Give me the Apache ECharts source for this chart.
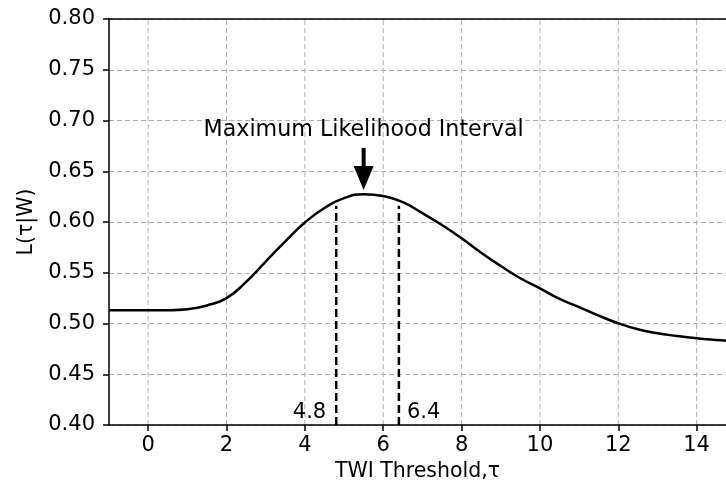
<!DOCTYPE html>
<html><head><meta charset="utf-8">
<script src="https://cdn.jsdelivr.net/npm/echarts@6/dist/echarts.min.js"></script>
<style>html,body{margin:0;padding:0;background:#fff}#c{width:726px;height:491px}</style>
</head><body><div id="c"></div>
<script>
const tau = [-1, -0.5, 0, 0.5, 1, 1.5, 2, 2.5, 3, 3.5, 4, 4.5, 5, 5.5, 6, 6.5, 7, 7.5, 8, 8.5, 9, 9.5, 10, 10.5, 11, 11.5, 12, 12.5, 13, 13.5, 14, 14.5, 15];
const likelihood = [0.513, 0.513, 0.513, 0.5131, 0.514, 0.5178, 0.525, 0.541, 0.561, 0.581, 0.5995, 0.6138, 0.6235, 0.6273, 0.6256, 0.6195, 0.6087, 0.597, 0.584, 0.5697, 0.5567, 0.5446, 0.5347, 0.5242, 0.5162, 0.5078, 0.5002, 0.4943, 0.4903, 0.4877, 0.4854, 0.4838, 0.4825];
const xTicks = [0, 2, 4, 6, 8, 10, 12, 14];
const intervalBounds = [4.8, 6.4];
const intervalLabels = ['4.8', '6.4'];
const intervalTop = 0.616;
const peakTau = 5.5;
const arrowFrom = 0.673;
const arrowTo = 0.6315;
const annotationText = 'Maximum Likelihood Interval';
const annotationY = 0.6906;
const boundLabelY = 0.4118;

const X_MIN = -1, X_MAX = 14.75, Y_MIN = 0.4, Y_MAX = 0.8;
const FONT = 'DejaVu Sans';

const chart = echarts.init(document.getElementById('c'), null, {renderer: 'canvas'});

const curveData = tau.map((t, i) => [t, likelihood[i]]);

const series = [
  {
    type: 'custom', z: 0, silent: true, clip: false,
    data: xTicks.map(v => [v, Y_MIN]),
    renderItem: (params, api) => {
      const v = api.value(0);
      const a = api.coord([v, Y_MIN]);
      const b = api.coord([v, Y_MAX]);
      return {type: 'line', shape: {x1: a[0], y1: a[1], x2: b[0], y2: b[1]},
        style: {stroke: '#b0b0b0', lineWidth: 1, lineDash: [5, 3]}};
    }
  },
  {
    type: 'line', z: 3, data: curveData, smooth: 0.5, symbol: 'none',
    lineStyle: {color: '#000', width: 2.5}, silent: true
  }
];

intervalBounds.forEach((b) => {
  series.push({
    type: 'line', z: 3, data: [[b, Y_MIN], [b, intervalTop]], symbol: 'none', silent: true,
    lineStyle: {color: '#000', width: 2.5, type: [8, 4]}
  });
});

series.push({
  type: 'custom', z: 5, silent: true, clip: false,
  data: [[peakTau, arrowFrom]],
  renderItem: (params, api) => {
    const p0 = api.coord([peakTau, arrowFrom]);
    const p1 = api.coord([peakTau, arrowTo]);
    const headLen = 24, headW = 10, shaftW = 2;
    const t = api.coord([peakTau, annotationY]);
    const l1 = api.coord([intervalBounds[0], boundLabelY]);
    const l2 = api.coord([intervalBounds[1], boundLabelY]);
    const textStyle = (txt, align, fs) => ({text: txt, fontSize: fs, fontFamily: FONT, fill: '#000', align: align, verticalAlign: 'middle'});
    return {type: 'group', children: [
      {type: 'rect', shape: {x: p0[0] - shaftW, y: p0[1], width: shaftW * 2, height: p1[1] - headLen - p0[1] + 1}, style: {fill: '#000'}},
      {type: 'polygon', shape: {points: [[p1[0] - headW, p1[1] - headLen], [p1[0] + headW, p1[1] - headLen], [p1[0], p1[1]]]}, style: {fill: '#000'}},
      {type: 'text', x: t[0], y: t[1], style: textStyle(annotationText, 'center', 22.2)},
      {type: 'text', x: l1[0] - 10, y: l1[1], style: textStyle(intervalLabels[0], 'right', 21)},
      {type: 'text', x: l2[0] + 8, y: l2[1], style: textStyle(intervalLabels[1], 'left', 21)}
    ]};
  }
});

chart.setOption({
  animation: false,
  backgroundColor: '#fff',
  grid: {left: 109, right: 0, top: 19, bottom: 66, containLabel: false},
  xAxis: [
    {
      type: 'value', min: X_MIN, max: X_MAX, position: 'bottom',
      name: 'TWI Threshold,τ', nameLocation: 'middle', nameGap: 31,
      nameTextStyle: {fontSize: 20.5, fontFamily: FONT, color: '#000'},
      axisLine: {show: true, onZero: false, lineStyle: {color: '#000', width: 1.5}},
      axisTick: {show: true, inside: false, length: 6, lineStyle: {color: '#000', width: 1.5}, customValues: xTicks},
      axisLabel: {show: true, margin: 10, fontSize: 21, fontFamily: FONT, color: '#000', customValues: xTicks, formatter: v => String(v)},
      splitLine: {show: false}
    },
    {
      type: 'value', min: X_MIN, max: X_MAX, position: 'top',
      axisLine: {show: true, onZero: false, lineStyle: {color: '#000', width: 1.5}},
      axisTick: {show: false}, axisLabel: {show: false}, splitLine: {show: false}
    }
  ],
  yAxis: {
    type: 'value', min: Y_MIN, max: Y_MAX, interval: 0.05,
    name: 'L(τ|W)', nameLocation: 'middle', nameGap: 70,
    nameTextStyle: {fontSize: 20.5, fontFamily: FONT, color: '#000'},
    axisLine: {show: true, onZero: false, lineStyle: {color: '#000', width: 1.5}},
    axisTick: {show: true, inside: false, length: 6, lineStyle: {color: '#000', width: 1.5}},
    axisLabel: {show: true, margin: 14, fontSize: 21, fontFamily: FONT, color: '#000', formatter: v => v.toFixed(2)},
    splitLine: {show: true, lineStyle: {color: '#b0b0b0', width: 1, type: [5, 3]}}
  },
  series: series
});
</script>
</body></html>
